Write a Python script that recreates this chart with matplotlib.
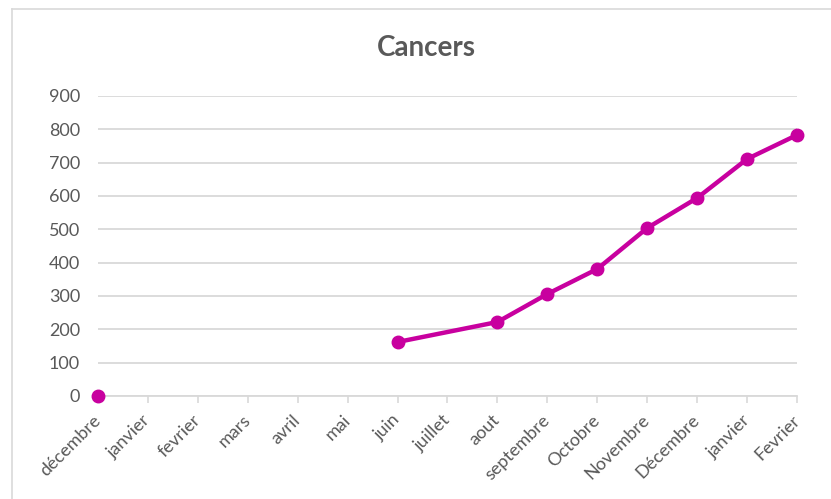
import numpy as np
import matplotlib
matplotlib.use("Agg")
import matplotlib.pyplot as plt
from matplotlib.lines import Line2D

categories = ["décembre", "janvier", "fevrier", "mars", "avril", "mai", "juin",
              "juillet", "aout", "septembre", "Octobre", "Novembre", "Décembre",
              "janvier", "Fevrier"]
values = [0, None, None, None, None, None, 162, None, 222, 306, 381, 504, 594, 711, 783]
y_ticks = [0, 100, 200, 300, 400, 500, 600, 700, 800, 900]
title = "Cancers"

color = "#C8009F"
grey_txt = "#595959"
grid_c = "#D9D9D9"

plt.rcParams['font.family'] = ['Lato', 'DejaVu Sans']

W, H = 831, 499
fig = plt.figure(figsize=(W / 100, H / 100), dpi=100)
ax = fig.add_axes([98 / W, 1 - 396 / H, (797 - 98) / W, 300 / H])

x = np.arange(len(categories))
vals = np.array([np.nan if v is None else v for v in values], dtype=float)

# isolated first point
ax.plot(x[:1], vals[:1], 'o', color=color, markersize=9, clip_on=False, zorder=5)
# connected line from juin onward (gaps bridged)
xs = x[6:]
vs = vals[6:]
m = ~np.isnan(vs)
ax.plot(xs[m], vs[m], '-o', color=color, lw=3.2, markersize=9, clip_on=False, zorder=5)

ax.set_xlim(0, len(categories) - 1)
ax.set_ylim(0, 900)
ax.set_yticks(y_ticks)
ax.set_yticklabels([str(t) for t in y_ticks], color=grey_txt, fontsize=13)
ax.set_xticks(x)
ax.set_xticklabels(categories, rotation=45, ha='right', va='center',
                   rotation_mode='anchor', color=grey_txt, fontsize=13)
for lbl in ax.get_xticklabels():
    lbl.set_y(-0.03)

ax.tick_params(axis='y', length=0, pad=13)
ax.tick_params(axis='x', length=5, color=grid_c, width=1.2, pad=4)
ax.yaxis.grid(True, color=grid_c, lw=1.3)
ax.set_axisbelow(True)
for s in ['top', 'right', 'left']:
    ax.spines[s].set_visible(False)
ax.spines['bottom'].set_color(grid_c)
ax.spines['bottom'].set_linewidth(1.3)

fig.text(426 / W, 1 - 48 / H, title, ha='center', va='center', fontsize=20,
         fontweight='bold', color=grey_txt)

# chart area border
fig.add_artist(Line2D([12 / W, 12 / W], [0, 1 - 9 / H], transform=fig.transFigure,
                      color=grid_c, lw=1.2))
fig.add_artist(Line2D([12 / W, 1], [1 - 9 / H, 1 - 9 / H], transform=fig.transFigure,
                      color=grid_c, lw=1.2))

fig.savefig("out.png", dpi=100)
